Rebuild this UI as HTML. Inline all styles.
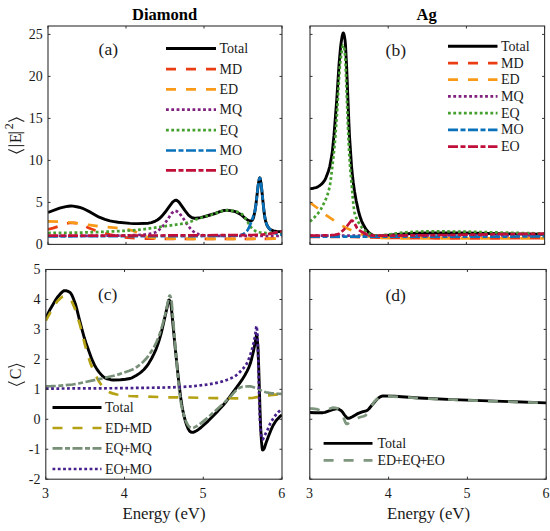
<!DOCTYPE html>
<html><head><meta charset="utf-8"><style>
html,body{margin:0;padding:0;background:#fff;}
svg{display:block;}
text{font-family:"Liberation Serif",serif;fill:#1a1a1a;}
.tk{font-size:14px;}
.lg{font-size:14px;}
.ttl{font-size:16.5px;font-weight:bold;fill:#000;}
.lab{font-size:16.8px;}
</style></head><body>
<svg width="550" height="531" viewBox="0 0 550 531">
<rect width="550" height="531" fill="#fff"/>
<defs>
<clipPath id="cp0"><rect x="48" y="26" width="234.0" height="218.4"/></clipPath>
<clipPath id="cp1"><rect x="310" y="26" width="234.6" height="218.4"/></clipPath>
<clipPath id="cp2"><rect x="45.8" y="269.5" width="236.2" height="209.7"/></clipPath>
<clipPath id="cp3"><rect x="309.8" y="269.5" width="236.4" height="209.7"/></clipPath>
</defs>
<g clip-path="url(#cp0)">
<path d="M48.0,212.5 59.6,208.2 61.6,207.6 65.9,206.6 68.5,206.2 70.9,206.0 73.1,206.1 77.9,207.0 80.6,207.7 82.5,208.3 85.1,209.5 90.8,212.4 96.9,215.9 99.2,217.2 104.9,219.3 109.9,220.8 114.1,221.6 118.1,222.3 130.0,223.4 133.8,223.6 137.9,223.6 148.4,223.2 151.4,222.6 155.4,221.1 157.4,220.0 160.0,218.0 162.1,215.9 165.1,212.3 169.4,206.3 172.6,202.2 174.0,201.0 175.2,200.4 176.0,200.2 176.6,200.3 177.2,200.7 178.2,201.4 179.0,202.2 185.0,210.7 188.5,215.1 189.8,216.2 191.0,217.1 191.9,217.6 193.4,218.0 194.6,218.3 195.9,218.3 200.6,217.6 205.0,216.5 213.4,214.0 215.5,213.3 219.2,211.8 222.6,210.8 225.0,210.4 227.2,210.3 230.1,210.6 233.6,211.2 235.1,211.6 236.6,212.2 240.8,214.5 245.0,218.1 248.2,220.4 249.5,220.9 250.6,220.9 252.1,220.4 252.9,219.2 253.5,217.6 254.8,212.0 255.9,204.9 258.1,185.6 259.1,179.7 259.5,178.2 259.8,177.8 260.0,178.0 260.4,179.4 261.4,185.8 263.4,205.9 264.6,216.0 265.6,221.1 266.8,224.8 267.8,226.7 269.0,228.4 270.1,229.4 271.6,230.2 273.5,230.9 276.6,231.5 282.0,231.6" fill="none" stroke="#000000" stroke-width="2.9" stroke-linecap="butt" stroke-linejoin="round"/>
<path d="M48.0,229.4 52.9,228.1 58.1,226.5 63.2,224.3 65.1,223.7 69.5,223.0 72.8,222.8 76.4,223.2 81.1,224.3 83.5,225.3 88.9,228.0 91.4,229.0 97.8,231.3 104.0,233.1 110.0,234.6 120.8,236.9 124.5,237.4 131.1,238.0 139.6,238.5 158.0,238.8 251.4,239.0 282.0,238.6" fill="none" stroke="#EA3C12" stroke-width="2.7" stroke-linecap="butt" stroke-linejoin="round" stroke-dasharray="10 10"/>
<path d="M48.0,221.4 60.1,221.7 71.1,222.5 80.4,223.7 90.6,225.2 97.6,226.1 104.2,226.8 116.0,227.8 124.8,228.9 129.5,229.8 133.0,230.7 144.0,235.8 146.8,236.9 151.4,237.7 156.8,238.3 167.5,238.6 186.8,238.8 240.8,238.8 282.0,238.6" fill="none" stroke="#F89A18" stroke-width="2.7" stroke-linecap="butt" stroke-linejoin="round" stroke-dasharray="10 10"/>
<path d="M48.0,236.0 98.1,235.8 123.0,235.5 141.2,234.9 145.4,234.5 149.4,233.9 152.9,233.1 155.6,232.3 157.4,231.3 159.2,229.8 163.0,226.0 164.2,224.5 168.2,218.6 170.5,215.0 171.5,213.5 173.8,211.3 174.4,210.9 175.0,210.8 176.1,211.0 177.5,211.7 178.6,212.4 179.6,213.4 183.6,218.9 187.6,225.0 190.6,228.8 192.4,230.7 193.8,231.8 196.4,233.3 198.5,234.3 200.5,235.0 201.9,235.2 207.2,235.5 217.4,235.9 282.0,236.0" fill="none" stroke="#80207F" stroke-width="2.7" stroke-linecap="butt" stroke-linejoin="round" stroke-dasharray="2.8 2.5"/>
<path d="M48.0,233.0 80.6,232.6 99.9,232.0 127.1,230.7 136.1,230.1 142.8,229.4 181.0,223.9 185.9,223.0 188.1,222.4 191.6,221.2 198.1,218.7 214.5,213.8 219.8,211.7 223.6,210.6 226.0,210.3 230.8,210.6 236.5,211.6 239.1,212.6 241.9,214.2 243.1,215.1 244.0,216.1 248.8,223.9 251.2,227.5 253.8,229.9 254.9,230.7 255.9,231.2 257.9,232.0 259.8,232.5 261.4,232.7 263.8,232.9 269.1,233.2 282.0,233.2" fill="none" stroke="#45A030" stroke-width="2.7" stroke-linecap="butt" stroke-linejoin="round" stroke-dasharray="2.8 2.5"/>
<path d="M48.0,236.3 143.9,236.2 213.5,236.0 236.4,235.6 239.0,235.3 242.0,234.6 243.5,234.0 245.1,232.8 246.8,231.2 247.8,229.8 249.5,226.4 250.6,223.8 252.0,220.1 253.9,214.4 254.9,211.0 255.4,208.6 256.0,204.1 258.1,185.6 259.1,179.8 259.5,178.4 259.8,178.0 260.0,178.2 260.4,179.5 261.4,185.8 263.4,205.9 264.6,216.0 265.5,220.5 266.6,224.3 267.6,226.4 269.0,228.3 270.9,230.2 272.9,231.8 274.8,232.9 277.0,233.7 279.8,234.3 282.0,234.6" fill="none" stroke="#0A72BA" stroke-width="2.7" stroke-linecap="butt" stroke-linejoin="round" stroke-dasharray="10 2.5 5 2.5"/>
<path d="M48.0,235.6 160.8,235.5 252.6,235.0 261.4,234.7 267.1,234.3 272.4,233.4 277.6,232.1 282.0,231.3" fill="none" stroke="#C0103A" stroke-width="2.7" stroke-linecap="butt" stroke-linejoin="round" stroke-dasharray="10 2.5 5 2.5"/>
</g>
<g clip-path="url(#cp1)">
<path d="M310.0,188.6 311.6,188.5 313.4,188.2 315.9,187.6 317.4,187.1 318.5,186.4 319.9,185.5 321.8,183.9 322.8,182.8 324.8,180.1 326.0,177.6 328.4,171.2 329.8,166.3 331.5,156.9 332.3,152.1 334.0,135.2 336.8,99.1 339.1,63.3 340.5,47.8 341.3,41.4 342.1,36.5 342.8,33.9 343.1,33.1 343.4,33.0 343.6,33.3 344.0,34.4 344.6,37.4 345.1,40.6 345.5,45.1 346.6,66.0 348.9,123.1 349.5,136.0 351.5,165.8 352.3,174.1 353.3,182.7 354.5,191.3 356.1,200.2 358.3,210.4 359.9,216.3 361.6,221.1 363.8,225.6 366.1,229.4 368.9,232.7 370.9,234.2 372.8,235.3 375.3,235.8 377.9,236.0 381.0,235.9 399.7,234.2 416.2,233.3 427.4,233.0 465.8,233.0 512.7,233.9 544.6,234.3" fill="none" stroke="#000000" stroke-width="2.9" stroke-linecap="butt" stroke-linejoin="round"/>
<path d="M310.0,237.0 352.0,237.0 369.3,237.5 391.0,237.9 436.2,238.3 505.7,238.3 544.6,238.0" fill="none" stroke="#EA3C12" stroke-width="2.7" stroke-linecap="butt" stroke-linejoin="round" stroke-dasharray="10 10"/>
<path d="M310.0,202.5 317.3,208.0 323.0,212.9 325.3,214.7 333.1,219.9 338.5,223.7 341.6,225.5 348.0,228.7 354.4,231.5 360.0,233.8 366.8,235.9 369.2,236.4 372.2,236.9 376.2,237.5 379.8,237.8 389.7,238.2 398.8,238.4 467.8,238.5 544.6,238.3" fill="none" stroke="#F89A18" stroke-width="2.7" stroke-linecap="butt" stroke-linejoin="round" stroke-dasharray="10 10"/>
<path d="M310.0,235.6 361.0,235.6 379.7,235.4 544.6,235.4" fill="none" stroke="#80207F" stroke-width="2.7" stroke-linecap="butt" stroke-linejoin="round" stroke-dasharray="2.8 2.5"/>
<path d="M310.0,221.6 313.0,218.9 316.5,215.1 319.3,211.8 321.1,208.9 325.4,200.2 327.0,196.4 328.6,191.2 330.0,185.0 330.9,178.8 332.9,161.8 334.4,147.4 335.4,136.4 336.9,115.0 339.0,78.6 340.1,63.6 341.4,53.6 342.5,46.9 342.8,45.8 343.0,45.4 343.3,45.6 343.6,46.3 344.4,48.9 344.9,53.2 345.4,59.9 348.0,128.3 349.1,152.2 350.4,171.3 351.8,185.6 352.8,198.4 353.4,204.7 354.4,212.0 355.0,214.5 355.9,217.0 357.6,220.9 359.4,224.0 361.8,227.6 363.6,229.6 365.9,231.4 369.0,233.5 372.2,234.9 373.9,235.3 380.5,235.3 383.3,235.1 391.0,234.2 398.5,233.0 406.0,232.3 417.7,231.6 427.7,231.3 464.1,231.6 495.8,232.4 544.6,233.5" fill="none" stroke="#45A030" stroke-width="2.7" stroke-linecap="butt" stroke-linejoin="round" stroke-dasharray="2.8 2.5"/>
<path d="M310.0,236.7 544.6,236.5" fill="none" stroke="#0A72BA" stroke-width="2.7" stroke-linecap="butt" stroke-linejoin="round" stroke-dasharray="10 2.5 5 2.5"/>
<path d="M310.0,235.6 320.4,235.5 330.9,235.2 334.9,234.8 338.3,234.1 339.3,233.6 341.4,231.9 344.3,229.2 347.1,226.0 351.0,221.0 351.4,220.7 351.8,220.5 352.5,220.8 353.8,222.1 354.5,223.3 357.0,228.0 358.3,229.4 359.8,230.6 361.1,231.5 367.5,234.8 369.9,235.3 373.0,235.6 381.4,235.7 436.6,235.2 499.1,234.2 544.6,233.7" fill="none" stroke="#C0103A" stroke-width="2.7" stroke-linecap="butt" stroke-linejoin="round" stroke-dasharray="10 2.5 5 2.5"/>
</g>
<g clip-path="url(#cp2)">
<path d="M45.8,317.8 50.2,309.2 55.3,300.4 57.4,297.3 61.3,292.8 62.3,291.9 63.3,291.1 64.2,290.7 64.9,290.6 66.1,290.7 67.3,291.1 68.7,291.7 70.2,292.6 71.2,293.9 72.3,296.0 73.7,299.4 75.6,304.6 76.7,308.6 79.6,320.3 82.6,331.6 84.3,337.8 85.8,342.4 91.8,359.2 94.3,364.7 96.7,368.9 99.2,372.4 102.3,375.9 103.3,376.7 104.6,377.6 107.2,378.9 110.7,379.7 113.3,380.0 120.6,379.8 125.6,379.3 130.2,378.5 132.5,377.6 136.2,375.5 139.1,373.6 141.1,372.1 144.0,369.5 146.3,366.8 148.6,363.6 151.6,358.5 153.8,354.1 156.0,349.3 157.6,345.1 159.3,339.7 161.1,333.7 162.3,328.7 168.5,301.2 168.8,300.1 169.0,300.0 169.3,300.1 170.0,300.9 170.6,302.3 171.1,305.3 172.3,317.3 175.1,346.9 178.6,380.3 180.5,396.2 182.0,405.9 183.1,411.9 184.1,416.4 185.5,421.5 186.7,425.3 188.3,429.1 189.5,431.0 190.0,431.5 190.8,432.0 192.3,432.4 193.1,432.3 193.8,432.1 196.6,430.7 198.6,429.4 201.0,427.5 208.1,421.1 218.0,410.9 222.9,405.5 226.6,401.0 239.7,383.1 242.1,379.7 245.0,375.0 247.1,371.1 248.9,367.3 250.4,363.3 251.7,358.5 253.5,351.2 255.7,339.4 256.4,335.4 256.6,334.8 256.9,335.5 257.2,338.3 257.7,343.8 258.0,348.2 258.7,366.7 260.0,409.8 260.6,426.2 261.5,441.7 262.1,447.8 262.5,449.9 262.7,450.0 263.2,449.7 264.0,448.8 264.4,448.1 266.0,443.0 268.5,436.3 271.5,428.8 273.2,425.2 275.2,421.9 277.1,419.4 279.7,416.7 282.0,415.0" fill="none" stroke="#000000" stroke-width="2.9" stroke-linecap="butt" stroke-linejoin="round"/>
<path d="M45.8,320.7 50.1,312.8 55.6,303.6 57.6,301.0 60.7,298.0 61.9,297.0 62.9,296.5 63.8,296.3 64.8,296.4 66.1,296.7 67.3,297.4 68.9,298.5 70.4,299.7 71.6,301.3 72.9,304.1 75.3,309.8 76.7,313.7 80.3,326.1 84.6,343.4 87.9,355.5 90.4,363.2 93.6,370.9 96.1,376.2 98.3,380.3 100.3,383.5 102.8,386.7 104.8,388.8 107.9,391.4 109.7,392.4 112.6,393.4 116.9,394.5 121.8,395.2 129.3,396.0 137.8,396.4 168.3,397.3 187.7,397.5 216.4,398.2 235.1,398.3 246.1,398.3 252.2,398.0 265.0,395.6 282.0,394.0" fill="none" stroke="#B4A214" stroke-width="2.7" stroke-linecap="butt" stroke-linejoin="round" stroke-dasharray="10 10"/>
<path d="M45.8,386.3 51.3,386.2 57.3,385.9 65.3,385.2 72.6,384.5 78.4,383.5 102.1,378.5 113.6,375.8 118.6,374.4 123.8,372.7 129.3,370.8 132.5,369.5 135.1,368.2 137.7,366.4 140.8,363.9 143.1,361.9 145.6,359.3 148.2,356.1 150.3,353.1 152.6,349.5 154.6,345.9 156.5,342.0 158.1,338.2 159.7,333.9 162.6,324.7 165.1,315.1 168.7,298.0 169.3,296.0 169.6,295.6 169.8,295.5 170.1,295.7 170.3,296.2 170.8,297.9 171.6,301.5 171.8,303.6 175.0,342.6 178.2,380.0 179.2,389.9 180.5,399.7 181.2,404.2 182.3,409.4 183.5,413.7 184.8,418.2 185.8,421.0 186.7,423.0 188.2,425.5 189.3,426.8 190.0,427.3 191.5,427.9 192.5,428.0 193.3,427.9 194.3,427.4 197.5,425.7 201.1,423.1 207.5,417.9 224.6,402.4 230.9,396.1 237.0,389.3 238.7,388.2 240.9,387.2 242.5,386.8 244.9,386.5 248.5,386.3 250.6,386.4 252.0,386.7 256.4,388.2 258.9,389.3 261.9,390.9 263.9,391.7 265.9,392.2 269.1,392.9 271.6,393.3 277.4,393.7 282.0,393.8" fill="none" stroke="#789078" stroke-width="2.7" stroke-linecap="butt" stroke-linejoin="round" stroke-dasharray="10 2.5 5 2.5"/>
<path d="M45.8,388.6 119.7,388.2 160.7,387.6 180.6,387.1 191.7,386.3 205.0,384.9 210.0,384.1 215.0,383.2 218.7,382.4 222.4,381.4 226.7,379.9 230.9,378.3 233.6,377.0 236.2,375.3 238.6,373.3 243.0,368.7 244.9,366.4 246.5,364.1 247.7,361.7 249.2,357.9 251.0,352.8 252.5,347.6 253.7,342.5 254.7,337.6 255.7,331.7 256.2,327.1 256.5,326.0 256.7,326.8 257.1,330.3 257.5,335.5 257.7,341.4 258.4,362.5 259.1,395.6 259.9,419.4 260.7,432.1 261.1,434.6 261.9,438.0 262.2,439.0 262.5,439.3 262.7,439.3 263.1,438.8 268.1,428.7 270.2,423.5 271.6,421.1 274.1,417.2 276.6,413.8 278.4,411.9 280.1,410.4 282.0,409.3" fill="none" stroke="#48208C" stroke-width="2.7" stroke-linecap="butt" stroke-linejoin="round" stroke-dasharray="2.8 2.5"/>
</g>
<g clip-path="url(#cp3)">
<path d="M309.8,412.5 315.2,412.8 322.9,412.7 324.9,412.3 329.1,410.8 334.2,409.2 336.1,408.9 337.6,408.8 339.2,409.4 341.3,410.7 342.2,411.7 344.4,414.8 346.8,417.7 347.7,418.3 348.8,418.3 350.1,417.9 352.4,416.8 356.3,414.4 358.3,413.4 362.2,411.9 366.1,410.9 367.4,410.3 368.8,409.0 371.6,405.5 375.7,400.7 377.3,399.0 378.4,398.1 380.8,396.6 381.9,396.1 382.9,395.9 394.6,396.3 419.3,398.0 452.9,399.6 546.2,402.9" fill="none" stroke="#000000" stroke-width="2.9" stroke-linecap="butt" stroke-linejoin="round"/>
<path d="M309.8,408.5 312.7,408.6 316.3,409.1 317.6,409.4 320.4,410.7 322.1,411.0 324.1,410.8 327.3,409.9 331.1,408.2 332.4,407.7 335.1,407.8 338.2,408.6 338.9,409.1 339.7,410.1 342.2,414.3 342.9,416.0 345.3,422.2 346.1,423.5 346.4,423.9 346.8,424.0 347.4,423.9 348.1,423.5 350.9,421.0 354.2,419.4 358.6,417.7 360.6,417.0 363.7,416.3 365.3,415.6 365.9,415.0 366.7,413.9 369.6,408.7 372.2,404.7 373.7,402.5 374.8,401.2 377.2,399.1 379.1,397.8 381.9,396.7 384.2,396.2 386.6,396.2 393.9,396.6 423.3,398.4 452.9,399.7 480.7,400.8 546.2,402.9" fill="none" stroke="#7E977E" stroke-width="2.7" stroke-linecap="butt" stroke-linejoin="round" stroke-dasharray="10 10"/>
</g>
<rect x="48" y="26" width="234" height="218.4" fill="none" stroke="#303030" stroke-width="1.1"/>
<line x1="48" y1="244.40" x2="50.5" y2="244.40" stroke="#303030" stroke-width="1"/>
<line x1="282" y1="244.40" x2="279.5" y2="244.40" stroke="#303030" stroke-width="1"/>
<text x="42.7" y="249.20" text-anchor="end" class="tk">0</text>
<line x1="48" y1="202.40" x2="50.5" y2="202.40" stroke="#303030" stroke-width="1"/>
<line x1="282" y1="202.40" x2="279.5" y2="202.40" stroke="#303030" stroke-width="1"/>
<text x="42.7" y="207.20" text-anchor="end" class="tk">5</text>
<line x1="48" y1="160.40" x2="50.5" y2="160.40" stroke="#303030" stroke-width="1"/>
<line x1="282" y1="160.40" x2="279.5" y2="160.40" stroke="#303030" stroke-width="1"/>
<text x="42.7" y="165.20" text-anchor="end" class="tk">10</text>
<line x1="48" y1="118.40" x2="50.5" y2="118.40" stroke="#303030" stroke-width="1"/>
<line x1="282" y1="118.40" x2="279.5" y2="118.40" stroke="#303030" stroke-width="1"/>
<text x="42.7" y="123.20" text-anchor="end" class="tk">15</text>
<line x1="48" y1="76.40" x2="50.5" y2="76.40" stroke="#303030" stroke-width="1"/>
<line x1="282" y1="76.40" x2="279.5" y2="76.40" stroke="#303030" stroke-width="1"/>
<text x="42.7" y="81.20" text-anchor="end" class="tk">20</text>
<line x1="48" y1="34.40" x2="50.5" y2="34.40" stroke="#303030" stroke-width="1"/>
<line x1="282" y1="34.40" x2="279.5" y2="34.40" stroke="#303030" stroke-width="1"/>
<text x="42.7" y="39.20" text-anchor="end" class="tk">25</text>
<line x1="48.00" y1="244.4" x2="48.00" y2="241.9" stroke="#303030" stroke-width="1"/>
<line x1="48.00" y1="26" x2="48.00" y2="28.5" stroke="#303030" stroke-width="1"/>
<line x1="126.00" y1="244.4" x2="126.00" y2="241.9" stroke="#303030" stroke-width="1"/>
<line x1="126.00" y1="26" x2="126.00" y2="28.5" stroke="#303030" stroke-width="1"/>
<line x1="204.00" y1="244.4" x2="204.00" y2="241.9" stroke="#303030" stroke-width="1"/>
<line x1="204.00" y1="26" x2="204.00" y2="28.5" stroke="#303030" stroke-width="1"/>
<line x1="282.00" y1="244.4" x2="282.00" y2="241.9" stroke="#303030" stroke-width="1"/>
<line x1="282.00" y1="26" x2="282.00" y2="28.5" stroke="#303030" stroke-width="1"/>
<rect x="310" y="26" width="234.60000000000002" height="218.4" fill="none" stroke="#303030" stroke-width="1.1"/>
<line x1="310" y1="244.40" x2="312.5" y2="244.40" stroke="#303030" stroke-width="1"/>
<line x1="544.6" y1="244.40" x2="542.1" y2="244.40" stroke="#303030" stroke-width="1"/>
<line x1="310" y1="202.40" x2="312.5" y2="202.40" stroke="#303030" stroke-width="1"/>
<line x1="544.6" y1="202.40" x2="542.1" y2="202.40" stroke="#303030" stroke-width="1"/>
<line x1="310" y1="160.40" x2="312.5" y2="160.40" stroke="#303030" stroke-width="1"/>
<line x1="544.6" y1="160.40" x2="542.1" y2="160.40" stroke="#303030" stroke-width="1"/>
<line x1="310" y1="118.40" x2="312.5" y2="118.40" stroke="#303030" stroke-width="1"/>
<line x1="544.6" y1="118.40" x2="542.1" y2="118.40" stroke="#303030" stroke-width="1"/>
<line x1="310" y1="76.40" x2="312.5" y2="76.40" stroke="#303030" stroke-width="1"/>
<line x1="544.6" y1="76.40" x2="542.1" y2="76.40" stroke="#303030" stroke-width="1"/>
<line x1="310" y1="34.40" x2="312.5" y2="34.40" stroke="#303030" stroke-width="1"/>
<line x1="544.6" y1="34.40" x2="542.1" y2="34.40" stroke="#303030" stroke-width="1"/>
<line x1="310.00" y1="244.4" x2="310.00" y2="241.9" stroke="#303030" stroke-width="1"/>
<line x1="310.00" y1="26" x2="310.00" y2="28.5" stroke="#303030" stroke-width="1"/>
<line x1="388.20" y1="244.4" x2="388.20" y2="241.9" stroke="#303030" stroke-width="1"/>
<line x1="388.20" y1="26" x2="388.20" y2="28.5" stroke="#303030" stroke-width="1"/>
<line x1="466.40" y1="244.4" x2="466.40" y2="241.9" stroke="#303030" stroke-width="1"/>
<line x1="466.40" y1="26" x2="466.40" y2="28.5" stroke="#303030" stroke-width="1"/>
<line x1="544.60" y1="244.4" x2="544.60" y2="241.9" stroke="#303030" stroke-width="1"/>
<line x1="544.60" y1="26" x2="544.60" y2="28.5" stroke="#303030" stroke-width="1"/>
<rect x="45.8" y="269.5" width="236.2" height="209.7" fill="none" stroke="#303030" stroke-width="1.1"/>
<line x1="45.8" y1="479.20" x2="48.3" y2="479.20" stroke="#303030" stroke-width="1"/>
<line x1="282" y1="479.20" x2="279.5" y2="479.20" stroke="#303030" stroke-width="1"/>
<text x="40.5" y="484.00" text-anchor="end" class="tk">-2</text>
<line x1="45.8" y1="449.24" x2="48.3" y2="449.24" stroke="#303030" stroke-width="1"/>
<line x1="282" y1="449.24" x2="279.5" y2="449.24" stroke="#303030" stroke-width="1"/>
<text x="40.5" y="454.04" text-anchor="end" class="tk">-1</text>
<line x1="45.8" y1="419.29" x2="48.3" y2="419.29" stroke="#303030" stroke-width="1"/>
<line x1="282" y1="419.29" x2="279.5" y2="419.29" stroke="#303030" stroke-width="1"/>
<text x="40.5" y="424.09" text-anchor="end" class="tk">0</text>
<line x1="45.8" y1="389.33" x2="48.3" y2="389.33" stroke="#303030" stroke-width="1"/>
<line x1="282" y1="389.33" x2="279.5" y2="389.33" stroke="#303030" stroke-width="1"/>
<text x="40.5" y="394.13" text-anchor="end" class="tk">1</text>
<line x1="45.8" y1="359.37" x2="48.3" y2="359.37" stroke="#303030" stroke-width="1"/>
<line x1="282" y1="359.37" x2="279.5" y2="359.37" stroke="#303030" stroke-width="1"/>
<text x="40.5" y="364.17" text-anchor="end" class="tk">2</text>
<line x1="45.8" y1="329.41" x2="48.3" y2="329.41" stroke="#303030" stroke-width="1"/>
<line x1="282" y1="329.41" x2="279.5" y2="329.41" stroke="#303030" stroke-width="1"/>
<text x="40.5" y="334.21" text-anchor="end" class="tk">3</text>
<line x1="45.8" y1="299.46" x2="48.3" y2="299.46" stroke="#303030" stroke-width="1"/>
<line x1="282" y1="299.46" x2="279.5" y2="299.46" stroke="#303030" stroke-width="1"/>
<text x="40.5" y="304.26" text-anchor="end" class="tk">4</text>
<line x1="45.8" y1="269.50" x2="48.3" y2="269.50" stroke="#303030" stroke-width="1"/>
<line x1="282" y1="269.50" x2="279.5" y2="269.50" stroke="#303030" stroke-width="1"/>
<text x="40.5" y="274.30" text-anchor="end" class="tk">5</text>
<line x1="45.80" y1="479.2" x2="45.80" y2="476.7" stroke="#303030" stroke-width="1"/>
<line x1="45.80" y1="269.5" x2="45.80" y2="272.0" stroke="#303030" stroke-width="1"/>
<text x="45.50" y="497.7" text-anchor="middle" class="tk">3</text>
<line x1="124.53" y1="479.2" x2="124.53" y2="476.7" stroke="#303030" stroke-width="1"/>
<line x1="124.53" y1="269.5" x2="124.53" y2="272.0" stroke="#303030" stroke-width="1"/>
<text x="124.23" y="497.7" text-anchor="middle" class="tk">4</text>
<line x1="203.27" y1="479.2" x2="203.27" y2="476.7" stroke="#303030" stroke-width="1"/>
<line x1="203.27" y1="269.5" x2="203.27" y2="272.0" stroke="#303030" stroke-width="1"/>
<text x="202.97" y="497.7" text-anchor="middle" class="tk">5</text>
<line x1="282.00" y1="479.2" x2="282.00" y2="476.7" stroke="#303030" stroke-width="1"/>
<line x1="282.00" y1="269.5" x2="282.00" y2="272.0" stroke="#303030" stroke-width="1"/>
<text x="281.70" y="497.7" text-anchor="middle" class="tk">6</text>
<rect x="309.8" y="269.5" width="236.40000000000003" height="209.7" fill="none" stroke="#303030" stroke-width="1.1"/>
<line x1="309.8" y1="479.20" x2="312.3" y2="479.20" stroke="#303030" stroke-width="1"/>
<line x1="546.2" y1="479.20" x2="543.7" y2="479.20" stroke="#303030" stroke-width="1"/>
<line x1="309.8" y1="449.24" x2="312.3" y2="449.24" stroke="#303030" stroke-width="1"/>
<line x1="546.2" y1="449.24" x2="543.7" y2="449.24" stroke="#303030" stroke-width="1"/>
<line x1="309.8" y1="419.29" x2="312.3" y2="419.29" stroke="#303030" stroke-width="1"/>
<line x1="546.2" y1="419.29" x2="543.7" y2="419.29" stroke="#303030" stroke-width="1"/>
<line x1="309.8" y1="389.33" x2="312.3" y2="389.33" stroke="#303030" stroke-width="1"/>
<line x1="546.2" y1="389.33" x2="543.7" y2="389.33" stroke="#303030" stroke-width="1"/>
<line x1="309.8" y1="359.37" x2="312.3" y2="359.37" stroke="#303030" stroke-width="1"/>
<line x1="546.2" y1="359.37" x2="543.7" y2="359.37" stroke="#303030" stroke-width="1"/>
<line x1="309.8" y1="329.41" x2="312.3" y2="329.41" stroke="#303030" stroke-width="1"/>
<line x1="546.2" y1="329.41" x2="543.7" y2="329.41" stroke="#303030" stroke-width="1"/>
<line x1="309.8" y1="299.46" x2="312.3" y2="299.46" stroke="#303030" stroke-width="1"/>
<line x1="546.2" y1="299.46" x2="543.7" y2="299.46" stroke="#303030" stroke-width="1"/>
<line x1="309.8" y1="269.50" x2="312.3" y2="269.50" stroke="#303030" stroke-width="1"/>
<line x1="546.2" y1="269.50" x2="543.7" y2="269.50" stroke="#303030" stroke-width="1"/>
<line x1="309.80" y1="479.2" x2="309.80" y2="476.7" stroke="#303030" stroke-width="1"/>
<line x1="309.80" y1="269.5" x2="309.80" y2="272.0" stroke="#303030" stroke-width="1"/>
<text x="309.50" y="497.7" text-anchor="middle" class="tk">3</text>
<line x1="388.60" y1="479.2" x2="388.60" y2="476.7" stroke="#303030" stroke-width="1"/>
<line x1="388.60" y1="269.5" x2="388.60" y2="272.0" stroke="#303030" stroke-width="1"/>
<text x="388.30" y="497.7" text-anchor="middle" class="tk">4</text>
<line x1="467.40" y1="479.2" x2="467.40" y2="476.7" stroke="#303030" stroke-width="1"/>
<line x1="467.40" y1="269.5" x2="467.40" y2="272.0" stroke="#303030" stroke-width="1"/>
<text x="467.10" y="497.7" text-anchor="middle" class="tk">5</text>
<line x1="546.20" y1="479.2" x2="546.20" y2="476.7" stroke="#303030" stroke-width="1"/>
<line x1="546.20" y1="269.5" x2="546.20" y2="272.0" stroke="#303030" stroke-width="1"/>
<text x="545.90" y="497.7" text-anchor="middle" class="tk">6</text>
<path d="M166,48.5 L216,48.5" fill="none" stroke="#000000" stroke-width="2.9" stroke-linecap="butt" stroke-linejoin="round"/>
<text x="219.5" y="53.1" class="lg">Total</text>
<path d="M166,69.1 L216,69.1" fill="none" stroke="#EA3C12" stroke-width="2.7" stroke-linecap="butt" stroke-linejoin="round" stroke-dasharray="10 10"/>
<text x="219.5" y="73.69999999999999" class="lg">MD</text>
<path d="M166,89.4 L216,89.4" fill="none" stroke="#F89A18" stroke-width="2.7" stroke-linecap="butt" stroke-linejoin="round" stroke-dasharray="10 10"/>
<text x="219.5" y="94.0" class="lg">ED</text>
<path d="M166,109.6 L216,109.6" fill="none" stroke="#80207F" stroke-width="2.7" stroke-linecap="butt" stroke-linejoin="round" stroke-dasharray="2.8 2.5"/>
<text x="219.5" y="114.19999999999999" class="lg">MQ</text>
<path d="M166,130.1 L216,130.1" fill="none" stroke="#45A030" stroke-width="2.7" stroke-linecap="butt" stroke-linejoin="round" stroke-dasharray="2.8 2.5"/>
<text x="219.5" y="134.7" class="lg">EQ</text>
<path d="M166,150.5 L216,150.5" fill="none" stroke="#0A72BA" stroke-width="2.7" stroke-linecap="butt" stroke-linejoin="round" stroke-dasharray="10 2.5 5 2.5"/>
<text x="219.5" y="155.1" class="lg">MO</text>
<path d="M166,170.4 L216,170.4" fill="none" stroke="#C0103A" stroke-width="2.7" stroke-linecap="butt" stroke-linejoin="round" stroke-dasharray="10 2.5 5 2.5"/>
<text x="219.5" y="175.0" class="lg">EO</text>
<path d="M448,46.3 L497.5,46.3" fill="none" stroke="#000000" stroke-width="2.9" stroke-linecap="butt" stroke-linejoin="round"/>
<text x="501" y="50.9" class="lg">Total</text>
<path d="M448,63.1 L497.5,63.1" fill="none" stroke="#EA3C12" stroke-width="2.7" stroke-linecap="butt" stroke-linejoin="round" stroke-dasharray="10 10"/>
<text x="501" y="67.7" class="lg">MD</text>
<path d="M448,79.7 L497.5,79.7" fill="none" stroke="#F89A18" stroke-width="2.7" stroke-linecap="butt" stroke-linejoin="round" stroke-dasharray="10 10"/>
<text x="501" y="84.3" class="lg">ED</text>
<path d="M448,96.4 L497.5,96.4" fill="none" stroke="#80207F" stroke-width="2.7" stroke-linecap="butt" stroke-linejoin="round" stroke-dasharray="2.8 2.5"/>
<text x="501" y="101.0" class="lg">MQ</text>
<path d="M448,113.1 L497.5,113.1" fill="none" stroke="#45A030" stroke-width="2.7" stroke-linecap="butt" stroke-linejoin="round" stroke-dasharray="2.8 2.5"/>
<text x="501" y="117.69999999999999" class="lg">EQ</text>
<path d="M448,129.8 L497.5,129.8" fill="none" stroke="#0A72BA" stroke-width="2.7" stroke-linecap="butt" stroke-linejoin="round" stroke-dasharray="10 2.5 5 2.5"/>
<text x="501" y="134.4" class="lg">MO</text>
<path d="M448,146.6 L497.5,146.6" fill="none" stroke="#C0103A" stroke-width="2.7" stroke-linecap="butt" stroke-linejoin="round" stroke-dasharray="10 2.5 5 2.5"/>
<text x="501" y="151.2" class="lg">EO</text>
<path d="M52.5,407.5 L101.5,407.5" fill="none" stroke="#000000" stroke-width="2.9" stroke-linecap="butt" stroke-linejoin="round"/>
<text x="105" y="412.1" class="lg">Total</text>
<path d="M52.5,428 L101.5,428" fill="none" stroke="#B4A214" stroke-width="2.7" stroke-linecap="butt" stroke-linejoin="round" stroke-dasharray="10 10"/>
<text x="105" y="432.6" class="lg">ED<tspan dx="-1.1">+</tspan><tspan dx="-1.1">MD</tspan></text>
<path d="M52.5,448.4 L101.5,448.4" fill="none" stroke="#789078" stroke-width="2.7" stroke-linecap="butt" stroke-linejoin="round" stroke-dasharray="10 2.5 5 2.5"/>
<text x="105" y="453.0" class="lg">EQ<tspan dx="-1.1">+</tspan><tspan dx="-1.1">MQ</tspan></text>
<path d="M52.5,469 L101.5,469" fill="none" stroke="#48208C" stroke-width="2.7" stroke-linecap="butt" stroke-linejoin="round" stroke-dasharray="2.8 2.5"/>
<text x="105" y="473.6" class="lg">EO<tspan dx="-1.1">+</tspan><tspan dx="-1.1">MO</tspan></text>
<path d="M323.6,443.4 L372.5,443.4" fill="none" stroke="#000000" stroke-width="2.9" stroke-linecap="butt" stroke-linejoin="round"/>
<text x="377.5" y="448.0" class="lg">Total</text>
<path d="M323.6,460.4 L372.5,460.4" fill="none" stroke="#7E977E" stroke-width="2.7" stroke-linecap="butt" stroke-linejoin="round" stroke-dasharray="10 10"/>
<text x="377.5" y="465.0" class="lg">ED<tspan dx="-1.1">+</tspan><tspan dx="-1.1">EQ</tspan><tspan dx="-1.1">+</tspan><tspan dx="-1.1">EO</tspan></text>
<text x="98.6" y="54.8" class="lab" style="font-size:17.5px">(a)</text>
<text x="385.6" y="55.7" class="lab" style="font-size:17.5px">(b)</text>
<text x="98" y="300" class="lab" style="font-size:17.5px">(c)</text>
<text x="385.5" y="301.2" class="lab" style="font-size:17.5px">(d)</text>
<text x="164.6" y="19.6" text-anchor="middle" class="ttl">Diamond</text>
<text x="426.6" y="19.6" text-anchor="middle" class="ttl">Ag</text>
<text x="164" y="519" text-anchor="middle" class="lab">Energy (eV)</text>
<text x="428.5" y="519" text-anchor="middle" class="lab">Energy (eV)</text>
<g transform="translate(21,135.5) rotate(-90)">
<polyline points="-14.0,-12.7 -17.6,-4.4 -14.0,3.3" fill="none" stroke="#222" stroke-width="1.05"/>
<line x1="-10.1" y1="-12.7" x2="-10.1" y2="3.3" stroke="#222" stroke-width="1.05"/>
<text x="-7.6" y="0" class="lab" style="font-size:16px">E</text>
<line x1="2.7" y1="-12.7" x2="2.7" y2="3.3" stroke="#222" stroke-width="1.05"/>
<text x="6.3" y="-8.0" class="lab" style="font-size:12px">2</text>
<polyline points="14.0,-12.7 17.6,-4.4 14.0,3.3" fill="none" stroke="#222" stroke-width="1.05"/>
</g>
<g transform="translate(21,374.85) rotate(-90)">
<polyline points="-6.9,-13 -10.6,-4.3 -6.9,4" fill="none" stroke="#222" stroke-width="1.05"/>
<text x="1" y="0" text-anchor="middle" class="lab" style="font-size:16px">C</text>
<polyline points="7.6,-13 10.6,-4.3 7.6,4" fill="none" stroke="#222" stroke-width="1.05"/>
</g>
</svg></body></html>
